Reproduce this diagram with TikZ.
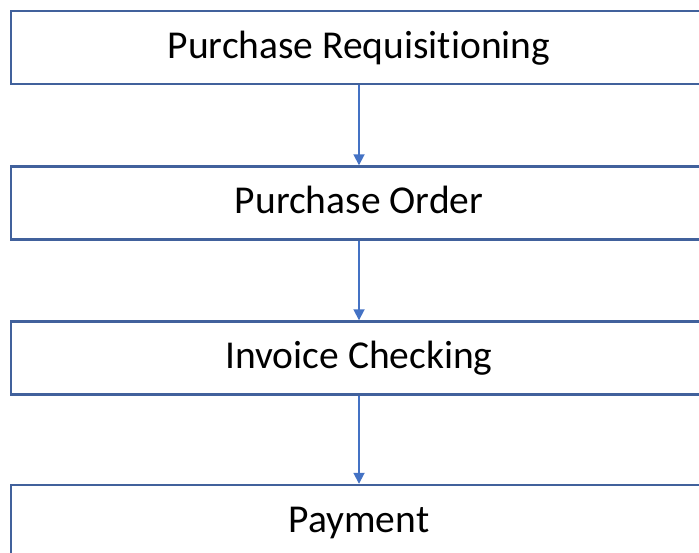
\documentclass[tikz,border=0pt]{standalone}
\usepackage{fontspec}
\setmainfont{Carlito}[Ligatures=NoCommon]
\usepackage{tikz}
\usetikzlibrary{arrows.meta, positioning}

\definecolor{boxline}{HTML}{41619C}
\definecolor{flowline}{HTML}{4472C4}

\tikzset{
    stagebox/.style={draw=boxline, line width=2.4pt, fill=white, minimum width=696pt, minimum height=73pt, inner sep=0pt, text height=25pt, text depth=3pt, font=\fontsize{39.5}{44}\selectfont},
    flow/.style={draw=flowline, line width=1.8pt, -{Triangle[width=11pt,length=11pt]}}
}

\begin{document}
\begin{tikzpicture}[x=1pt,y=-1pt]
    \useasboundingbox (0,0) rectangle (699,553);
    % The four stages of the purchasing process
    \node[stagebox] (req) at (359,47.5) {Purchase Requisitioning};
    \node[stagebox] (order) at (359,203) {Purchase Order};
    \node[stagebox] (invoice) at (359,358) {Invoice Checking};
    \node[stagebox] (pay) at (359,521.5) {Payment};
    % Links between stages
    \draw[flow] (req.south) -- (order.north);
    \draw[flow] (order.south) -- (invoice.north);
    \draw[flow] (invoice.south) -- (pay.north);
\end{tikzpicture}
\end{document}
